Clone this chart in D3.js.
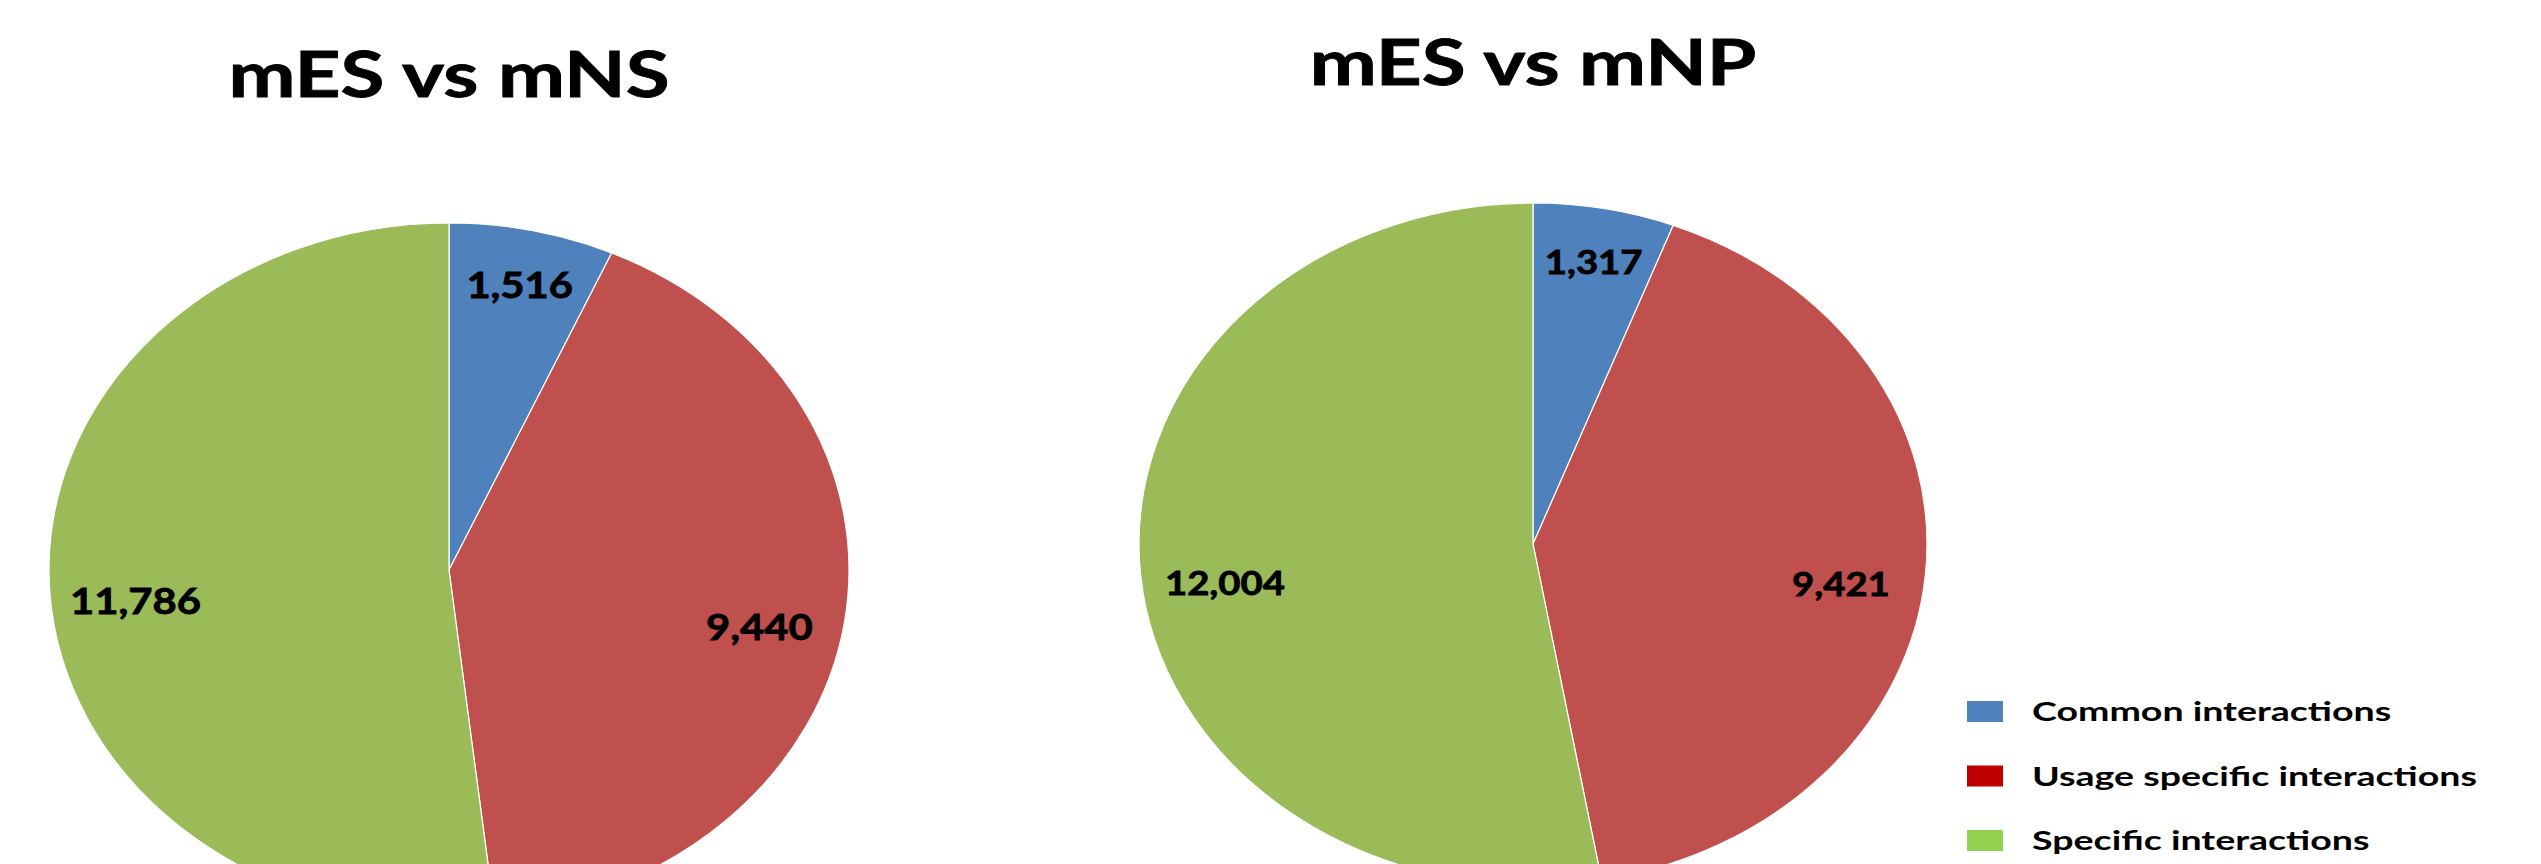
<!DOCTYPE html>
<html>
<head>
<meta charset="utf-8">
<script src="https://cdnjs.cloudflare.com/ajax/libs/d3/7.8.5/d3.min.js"></script>
<style>
    body { margin: 0; background: #fff; }
    text { font-family: Lato, "Open Sans", sans-serif; font-weight: bold; fill: #000; }
    .label, .title { stroke: #000; stroke-width: 0.8px; }
</style>
</head>
<body>
<div id="container"></div>
<script>
const categories = ["Common interactions", "Usage specific interactions", "Specific interactions"];
const titles = ["mES vs mNS", "mES vs mNP"];
const mNSValues = [1516, 9440, 11786];
const mNPValues = [1317, 9421, 12004];

const sliceColors = ["#4f81bd", "#c0504d", "#9bbb59"];
const legendColors = ["#4f81bd", "#c00000", "#92d050"];

const width = 2541;
const height = 864;

// the original picture is stretched sideways, so text is widened to match
const charts = [
    { title: titles[0], values: mNSValues, cx: 449, cy: 570, rx: 400, ry: 347, titleY: 97, labelSize: 36 },
    { title: titles[1], values: mNPValues, cx: 1533, cy: 544, rx: 394, ry: 341, titleY: 85, labelSize: 33 }
];

const svg = d3.select('#container')
              .append('svg')
              .attr('width', width)
              .attr('height', height);

svg.append('rect')
   .attr('width', width)
   .attr('height', height)
   .attr('fill', '#fff');

const pie = d3.pie().sort(null).value(d => d);
const fmt = d3.format(',');

charts.forEach(c => {
    const g = svg.append('g')
                 .attr('transform', `translate(${c.cx},${c.cy})`);

    const arc = d3.arc().innerRadius(0).outerRadius(c.ry);
    const arcs = pie(c.values);
    const sx = c.rx / c.ry;

    g.append('g')
     .attr('transform', `scale(${sx},1)`)
     .selectAll('path')
     .data(arcs)
     .enter()
     .append('path')
     .attr('d', arc)
     .attr('fill', (d, i) => sliceColors[i])
     .attr('stroke', '#fff')
     .attr('stroke-width', 1.2)
     .attr('vector-effect', 'non-scaling-stroke');

    // narrow slices get their label pushed further out, like Excel's best fit
    g.selectAll('text.label')
     .data(arcs)
     .enter()
     .append('text')
     .attr('class', 'label')
     .attr('text-anchor', 'middle')
     .attr('transform', d => {
         const r = (d.endAngle - d.startAngle) < 0.6 ? 0.85 : 0.785;
         const labelArc = d3.arc().innerRadius(c.ry * r).outerRadius(c.ry * r);
         const [x, y] = labelArc.centroid(d);
         const mid = (d.startAngle + d.endAngle) / 2;
         const nudge = 0.045 * c.ry * Math.abs(Math.sin(mid));
         return `translate(${x * sx},${y + nudge + c.labelSize * 0.36}) scale(1.16,1)`;
     })
     .style('font-size', c.labelSize + 'px')
     .text(d => fmt(d.data));

    svg.append('text')
       .attr('class', 'title')
       .attr('text-anchor', 'middle')
       .attr('transform', `translate(${c.cx},${c.titleY}) scale(1.25,1)`)
       .style('font-size', '64px')
       .text(c.title);
});

const legendY = d3.scalePoint()
                  .domain(categories)
                  .range([701, 830]);

const legend = svg.append('g')
                  .attr('class', 'legend');

legend.selectAll('rect')
      .data(categories)
      .enter()
      .append('rect')
      .attr('x', 1967)
      .attr('y', d => legendY(d))
      .attr('width', 36)
      .attr('height', 21)
      .attr('fill', (d, i) => legendColors[i]);

legend.selectAll('text')
      .data(categories)
      .enter()
      .append('text')
      .attr('transform', d => `translate(2032,${legendY(d) + 20}) scale(1.39,1)`)
      .style('font-size', '27px')
      .text(d => d);
</script>
</body>
</html>
